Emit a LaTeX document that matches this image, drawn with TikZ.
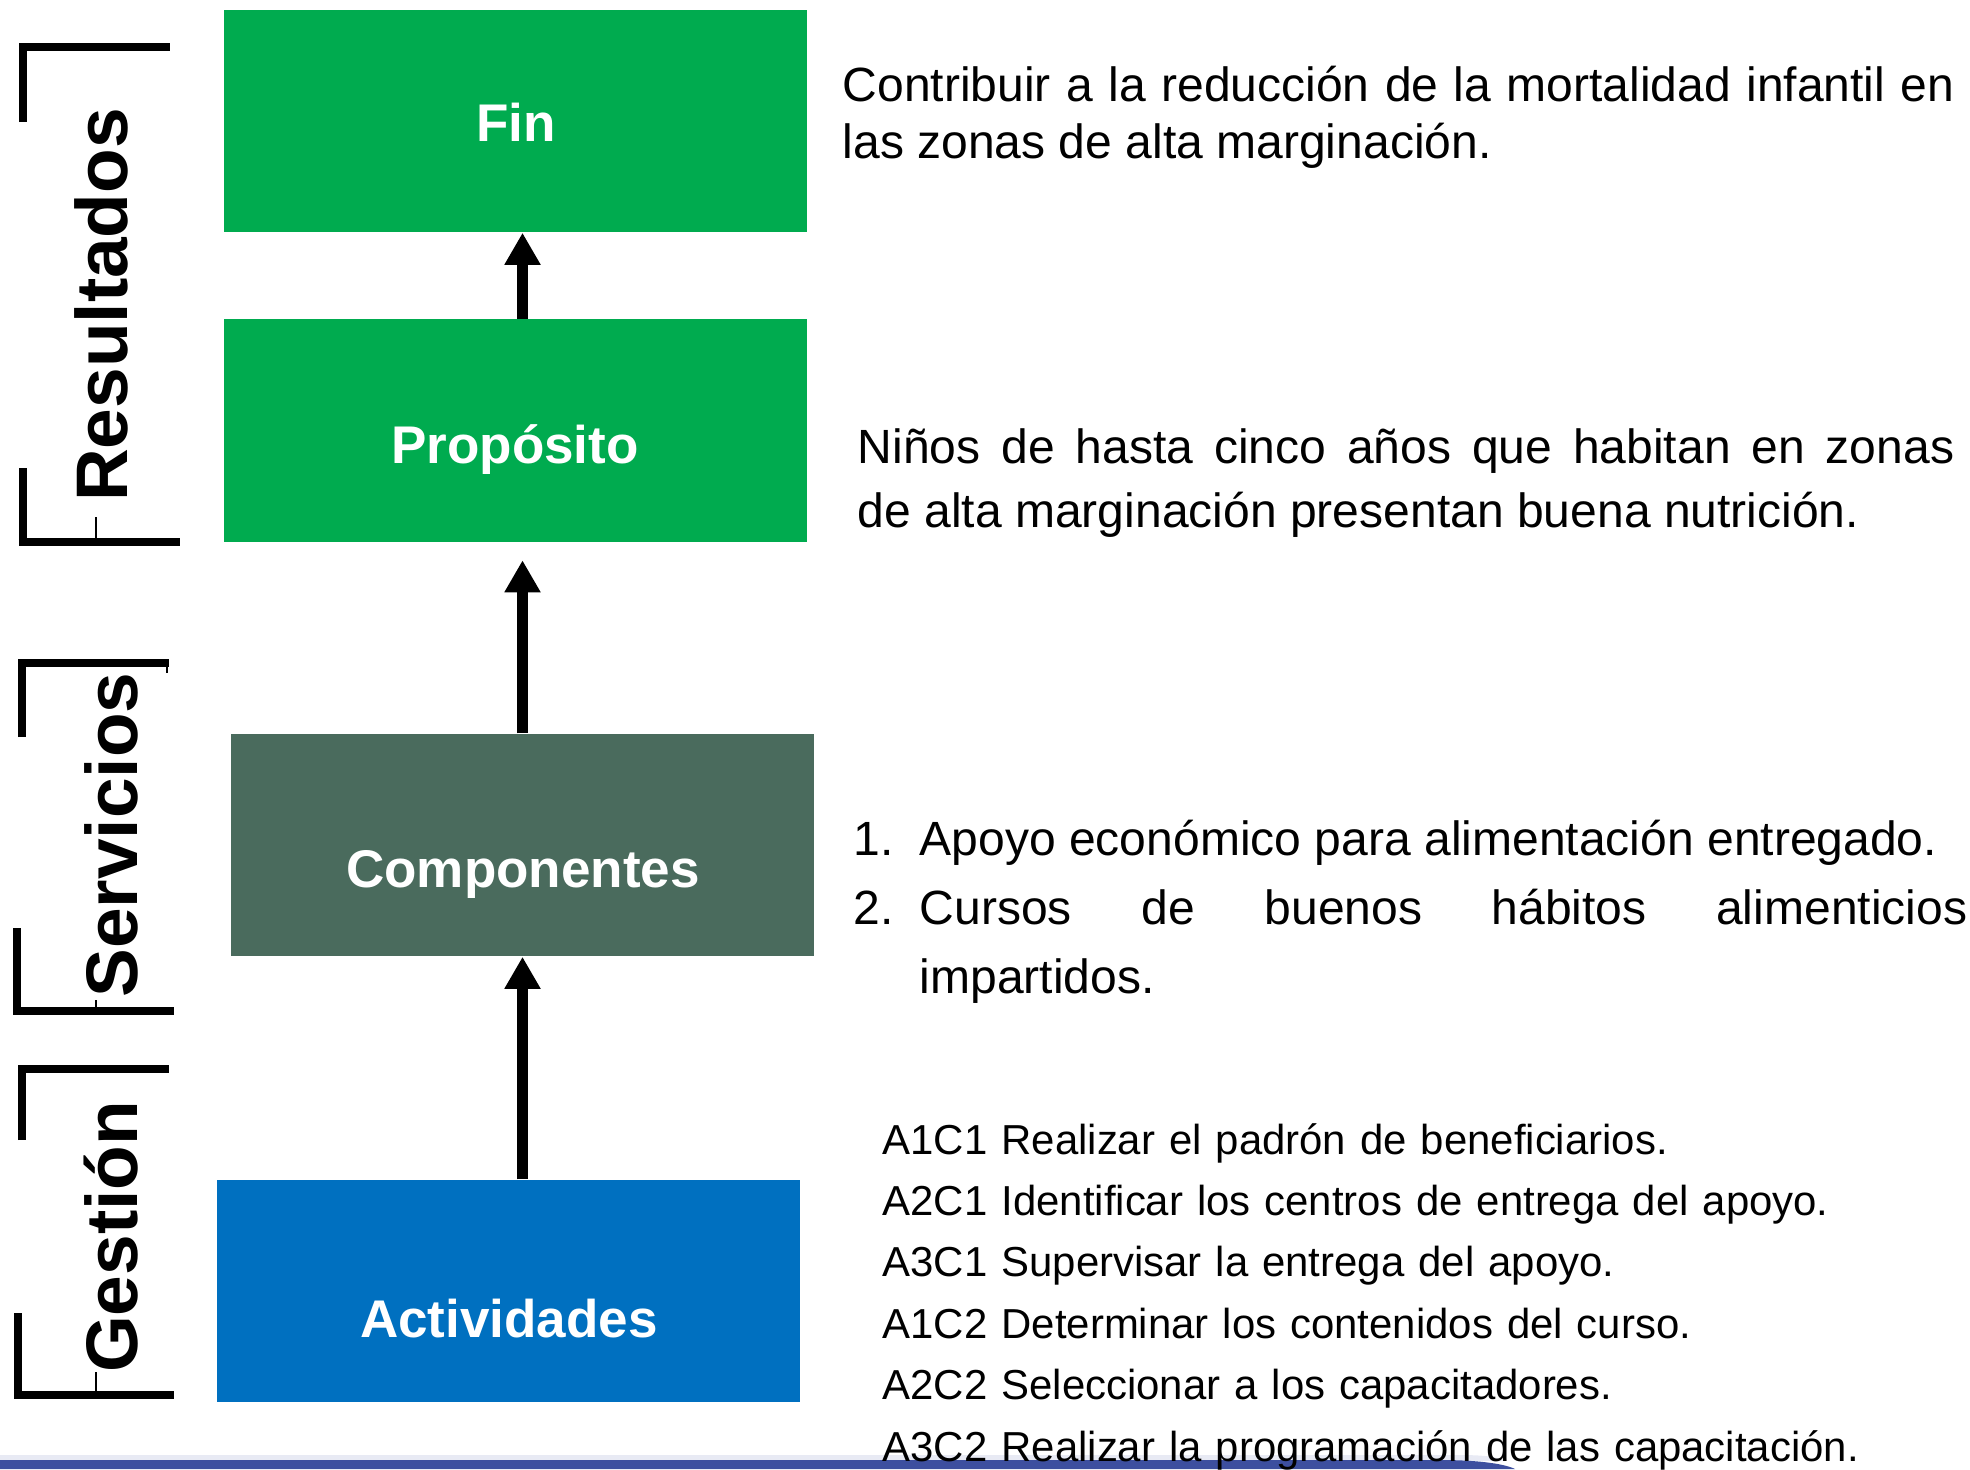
\documentclass[tikz,border=0pt]{standalone}
\usepackage{fontspec}
\setmainfont{Liberation Sans}
\usepackage{tikz}
\usetikzlibrary{arrows.meta,positioning,calc}
\definecolor{verdenivel}{HTML}{00AB4F}
\definecolor{grisnivel}{HTML}{4A6B5D}
\definecolor{azulnivel}{HTML}{0070C0}
\definecolor{azulbanda}{HTML}{3D4F9F}
\tikzstyle{nivel}=[inner sep=0pt,minimum width=5.83cm,minimum height=2.22cm]
\tikzstyle{etiqueta}=[white,anchor=base,inner sep=0pt,font=\fontsize{15.08pt}{18pt}\selectfont\bfseries]
\tikzstyle{lado}=[rotate=90,anchor=base,inner sep=0pt,font=\fontsize{20.77pt}{24pt}\selectfont\bfseries]
\tikzstyle{corchete}=[line width=0.075cm,line join=miter]
\tikzstyle{trazo}=[line width=0.015cm]
\tikzstyle{subida}=[line width=0.11cm,-{Triangle[width=0.34cm,length=0.32cm]}]
\tikzstyle{texto}=[anchor=base west,inner sep=0pt,align=justify]

\begin{document}
\begin{tikzpicture}[x=0.01cm,y=-0.01cm]
    \useasboundingbox (0,0) rectangle (1970,1469);
    \fill[azulbanda!12] (0,1455) -- (1460,1455) .. controls (1490,1455) and (1500,1458) .. (1505,1461) -- (0,1461) -- cycle;
    \fill[azulbanda] (0,1460) -- (1440,1460) .. controls (1480,1460) and (1505,1464) .. (1515,1469) -- (0,1469) -- cycle;

    \node [nivel,fill=verdenivel] (fin) at (515.5,121) {};
    \node [nivel,fill=verdenivel] (prop) at (515.5,430.5) {};
    \node [nivel,fill=grisnivel] (comp) at (522.5,845) {};
    \node [nivel,fill=azulnivel] (act) at (508.5,1291) {};
    \node [etiqueta] (finlbl) at (516,141) {Fin};
    \node [etiqueta] (proplbl) at (515,463) {Propósito};
    \node [etiqueta] (complbl) at (523,887) {Componentes};
    \node [etiqueta] (actlbl) at (509,1337) {Actividades};

    \draw [subida] (prop.north -| comp.north) -- (fin.south -| comp.north);
    \draw [subida,shorten >=0.18cm] (comp.north) -- (prop.south -| comp.north);
    \draw [subida] (act.north -| comp.north) -- (comp.south);

    \node [lado] (resultados) at (127,305) {Resultados};
    \node [lado] (servicios) at (137,835) {Servicios};
    \node [lado] (gestion) at (137,1237) {Gestión};
    \draw [corchete] (23,122) -- (23,47) -- (170,47);
    \draw [corchete] (23,468) -- (23,542) -- (180,542);
    \draw [corchete] (22,737) -- (22,663) -- (169,663);
    \draw [corchete] (17,928) -- (17,1011) -- (174,1011);
    \draw [corchete] (22,1140) -- (22,1069) -- (169,1069);
    \draw [corchete] (18,1313) -- (18,1395) -- (174,1395);
    \draw [trazo] (96,517) -- (96,542);
    \draw [trazo] (167,663) -- (167,673);
    \draw [trazo] (96,1000) -- (96,1011);
    \draw [trazo] (96,1372) -- (96,1395);

    \node [texto,text width=11.11cm,font=\fontsize{13.66pt}{16.22pt}\selectfont] (finobj) at (842,101)
      {Contribuir a la reducción de la mortalidad infantil en\linebreak las zonas de alta marginación.};
    \node [texto,text width=10.96cm,font=\fontsize{13.66pt}{18.21pt}\selectfont] (propobj) at (857,463)
      {Niños de hasta cinco años que habitan en zonas\linebreak de alta marginación presentan buena nutrición.};
    \node [texto,text width=11.13cm,font=\fontsize{13.66pt}{19.63pt}\selectfont] (compobj) at (853,855)
      {\makebox[0.66cm][l]{1.}Apoyo económico para alimentación entregado.\par
       \makebox[0.66cm][l]{2.}Cursos de buenos hábitos alimenticios\linebreak\hspace*{0.66cm}impartidos.};
    \node [texto,text width=10cm,align=left,font=\fontsize{11.92pt}{17.47pt}\selectfont] (actobj) at (882,1154)
      {A1C1 Realizar el padrón de beneficiarios.\\
       A2C1 Identificar los centros de entrega del apoyo.\\
       A3C1 Supervisar la entrega del apoyo.\\
       A1C2 Determinar los contenidos del curso.\\
       A2C2 Seleccionar a los capacitadores.\\
       A3C2 Realizar la programación de las capacitación.};
\end{tikzpicture}
\end{document}
